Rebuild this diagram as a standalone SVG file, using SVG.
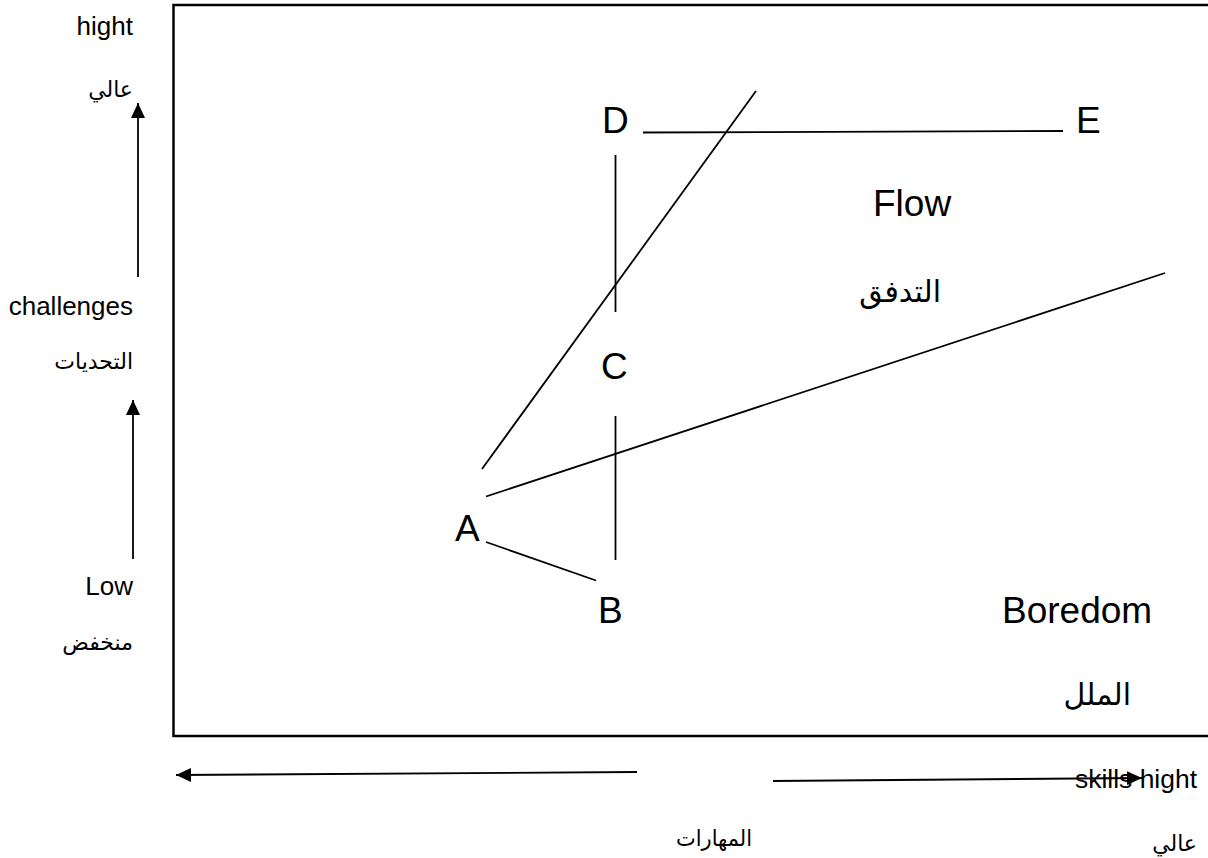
<svg xmlns="http://www.w3.org/2000/svg" width="1208" height="858" viewBox="0 0 1208 858">
<defs>
<style>
.t{font-family:"Liberation Sans","DejaVu Sans",Arial,sans-serif;fill:#000}
.big{font-size:37px}
.sm{font-size:26px}
.ar{font-family:"DejaVu Sans","Liberation Sans",sans-serif;font-size:22px;fill:#000}
.arbig{font-family:"DejaVu Sans","Liberation Sans",sans-serif;font-size:30px;fill:#000}
.ln{stroke:#000;stroke-width:1.8;fill:none}
</style>
<marker id="ah" markerUnits="userSpaceOnUse" markerWidth="16" markerHeight="16" viewBox="0 0 16 16" refX="15" refY="8" orient="auto">
<path d="M0,1 L15,8 L0,15 Z" fill="#000"/>
</marker>
</defs>
<rect width="1208" height="858" fill="#fff"/>
<g id="frame">
<rect x="173.5" y="5" width="1040" height="731" fill="none" stroke="#000" stroke-width="2.5"/>
</g>
<g id="axis-y">
<text class="t sm" x="133" y="35" text-anchor="end">hight</text>
<text class="ar" x="133" y="97" text-anchor="end">عالي</text>
<text class="t sm" x="133" y="315" text-anchor="end">challenges</text>
<text class="ar" x="133" y="369" text-anchor="end">التحديات</text>
<text class="t sm" x="133" y="595" text-anchor="end">Low</text>
<text class="ar" x="133" y="650" text-anchor="end">منخفض</text>
</g>
<g id="axis-x">
<text class="t sm" x="1197" y="788" text-anchor="end" textLength="122" lengthAdjust="spacingAndGlyphs">skills hight</text>
<text class="ar" x="752" y="846" text-anchor="end" textLength="76" lengthAdjust="spacingAndGlyphs">المهارات</text>
<text class="ar" x="1197" y="851" text-anchor="end">عالي</text>
</g>
<g id="node-D"><text class="t big" x="602" y="133">D</text></g>
<g id="node-E"><text class="t big" x="1076" y="133">E</text></g>
<g id="node-C"><text class="t big" x="601" y="379">C</text></g>
<g id="node-A"><text class="t big" x="455" y="541">A</text></g>
<g id="node-B"><text class="t big" x="598" y="623">B</text></g>
<g id="region-flow">
<text class="t big" x="873" y="216">Flow</text>
<text class="arbig" x="941" y="302" text-anchor="end">التدفق</text>
</g>
<g id="region-boredom">
<text class="t big" x="1002" y="623">Boredom</text>
<text class="arbig" x="1131" y="705" text-anchor="end">الملل</text>
</g>
<g id="connectors">
<line class="ln" x1="643" y1="132.5" x2="1063" y2="131"/>
<line class="ln" x1="615.5" y1="155" x2="615.5" y2="312"/>
<line class="ln" x1="615.5" y1="416" x2="615.5" y2="560"/>
<line class="ln" x1="486" y1="542" x2="596" y2="580.5"/>
<line class="ln" x1="482" y1="469" x2="756" y2="91"/>
<line class="ln" x1="486" y1="496.5" x2="1165" y2="273"/>
<line class="ln" x1="138" y1="277" x2="138" y2="103" marker-end="url(#ah)"/>
<line class="ln" x1="133" y1="559" x2="133" y2="400" marker-end="url(#ah)"/>
<line class="ln" x1="637" y1="772" x2="176" y2="775" marker-end="url(#ah)"/>
<line class="ln" x1="773" y1="781" x2="1142" y2="778" marker-end="url(#ah)"/>
</g>
</svg>
